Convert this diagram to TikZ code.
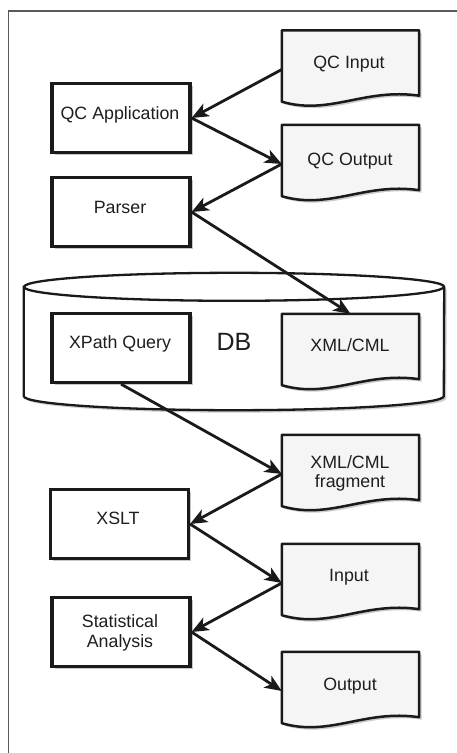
\documentclass[tikz,border=0pt]{standalone}
\usepackage{fontspec}
\setmainfont{Liberation Sans}
\usetikzlibrary{calc,arrows.meta}
\pgfdeclarelayer{bg}
\pgfdeclarelayer{paper}
\pgfsetlayers{paper,bg,main}
\definecolor{ink}{HTML}{1A1A1A}
\definecolor{docfill}{HTML}{F5F5F5}
\definecolor{framec}{HTML}{5A5A5A}
\definecolor{txtc}{HTML}{1E1E1E}
\newcommand\docpath[1]{(#1.north west) -- (#1.north east) -- ($(#1.south east)+(0,13)$) .. controls ($(#1.south west)!0.6!(#1.south east)+(0,21)$) and ($(#1.south west)!0.35!(#1.south east)+(0,-7)$) .. ($(#1.south west)+(0,7)$) -- cycle}
\begin{document}
\begin{tikzpicture}[x=1pt,y=1pt,
  rectbox/.style={draw=ink, line width=3.2pt, fill=white, minimum width=138pt, minimum height=69pt, inner sep=0pt,
    preaction={fill=black, opacity=.22, transform canvas={shift={(2.5pt,-2.5pt)}}}},
  docbox/.style={minimum width=137pt, minimum height=78pt, inner sep=0pt},
  lbl/.style={text=txtc, font=\fontsize{17.8}{20}\selectfont, anchor=base, align=center, inner sep=0pt},
  conn/.style={draw=ink, line width=2.8pt, -{Stealth[length=17pt,width=14pt,inset=4.5pt]}},
  docline/.style={draw=ink, line width=2.5pt, fill=docfill, line join=round},
  shade/.style={fill=black, opacity=.2, transform canvas={shift={(2.5pt,-2.5pt)}}},
  cylline/.style={draw=ink, line width=2.3pt, fill=white}
]
\useasboundingbox (0,0) rectangle (457,-753);
\begin{pgfonlayer}{paper}
\fill[white] (0,0) rectangle (457,-753);
\draw[framec, line width=1.6pt] (8.5,-760) -- (8.5,-11) -- (462,-11);
\end{pgfonlayer}

% database cylinder
\node[minimum width=420pt, minimum height=109pt, inner sep=0pt, text=txtc, font=\fontsize{25}{28}\selectfont] (db) at (234,-341.5) {DB};

% rectangles
\node[rectbox] (qcapp) at (121,-118) {};
\node[rectbox] (parser) at (121,-212) {};
\node[rectbox] (xpath) at (121,-348) {};
\node[rectbox] (xslt) at (119.5,-524) {};
\node[rectbox] (stat) at (121,-632) {};

% documents
\node[docbox] (qcin) at (350.5,-69.5) {};
\node[docbox] (qcout) at (350.5,-164) {};
\node[docbox] (xml) at (350.5,-353) {};
\node[docbox] (frag) at (350.5,-474) {};
\node[docbox] (inp) at (350.5,-583) {};
\node[docbox] (outp) at (350.5,-691) {};

\begin{pgfonlayer}{bg}
  \fill[shade] (db.north west) -- (db.south west) arc[start angle=180,end angle=360,x radius=210,y radius=14] -- (db.north east) arc[start angle=0,end angle=180,x radius=210,y radius=14] -- cycle;
  \path[cylline] (db.north west) -- (db.south west) arc[start angle=180,end angle=360,x radius=210,y radius=14] -- (db.north east) arc[start angle=0,end angle=180,x radius=210,y radius=14] -- cycle;
  \draw[ink, line width=2.3pt] (db.north west) arc[start angle=180,end angle=360,x radius=210,y radius=14];
  \foreach \d in {qcin,qcout,xml,frag,inp,outp}{
    \fill[shade] \docpath{\d};
    \path[docline] \docpath{\d};
  }
\end{pgfonlayer}

% labels
\node[lbl] (qcint) at (349,-68) {QC Input};
\node[lbl] (qcappt) at (120,-119.5) {QC Application};
\node[lbl] (qcoutt) at (350,-165) {QC Output};
\node[lbl] (parsert) at (120,-213) {Parser};
\node[lbl] (xpatht) at (120,-348) {XPath Query};
\node[lbl] (xmlt) at (350,-351.5) {XML/CML};
\node[lbl] (fragt) at (350,-487) {XML/CML\\[-1pt]fragment};
\node[lbl] (xsltt) at (118,-524) {XSLT};
\node[lbl] (inputt) at (349,-581) {Input};
\node[lbl] (statt) at (120,-647) {Statistical\\Analysis};
\node[lbl] (outputt) at (350,-690) {Output};

% connectors
\draw[conn] (qcin.west) -- (qcapp.east);
\draw[conn] (qcapp.east) -- (qcout.west);
\draw[conn] (qcout.west) -- (parser.east);
\draw[conn] (parser.east) -- (xml.north);
\draw[conn] (xpath.south) -- (frag.west);
\draw[conn] (frag.west) -- (xslt.east);
\draw[conn] (xslt.east) -- (inp.west);
\draw[conn] (inp.west) -- (stat.east);
\draw[conn] (stat.east) -- (outp.west);
\end{tikzpicture}
\end{document}
